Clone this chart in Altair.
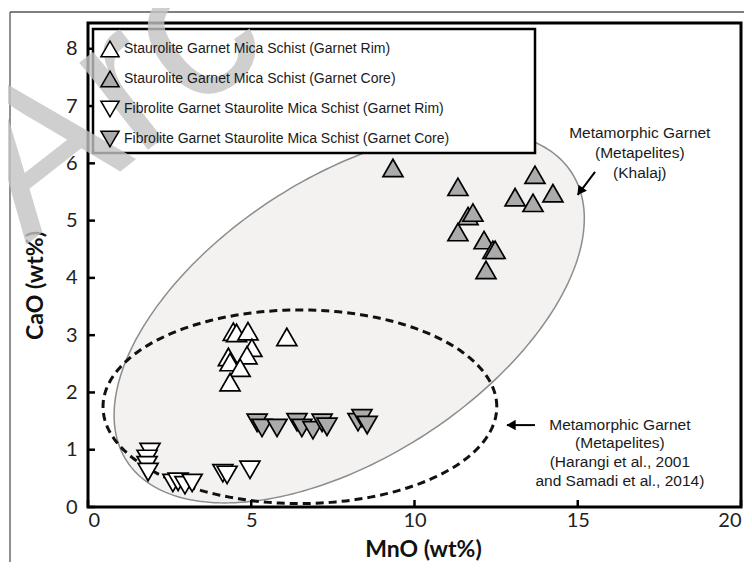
import altair as alt
import numpy as np
import pandas as pd

# ---------------- data ----------------
series_names = [
    "Staurolite Garnet Mica Schist (Garnet Rim)",
    "Staurolite Garnet Mica Schist (Garnet Core)",
    "Fibrolite Garnet Staurolite Mica Schist (Garnet Rim)",
    "Fibrolite Garnet Staurolite Mica Schist (Garnet Core)",
]

st_rim_mno = [4.45, 4.55, 4.90, 5.02, 4.87, 6.09, 4.30, 4.35, 4.66, 4.35]
st_rim_cao = [3.06, 3.04, 3.07, 2.78, 2.65, 2.97, 2.62, 2.53, 2.43, 2.18]

st_core_mno = [9.34, 11.33, 11.64, 11.79, 11.33, 12.13, 12.40, 12.47, 12.19, 13.69, 13.08, 13.63, 14.24]
st_core_cao = [5.92, 5.59, 5.08, 5.14, 4.80, 4.66, 4.49, 4.49, 4.14, 5.80, 5.41, 5.31, 5.48]

fib_rim_mno = [1.90, 1.81, 1.81, 1.84, 2.60, 2.76, 2.97, 3.19, 4.13, 4.26, 4.96]
fib_rim_cao = [0.96, 0.84, 0.73, 0.61, 0.42, 0.44, 0.38, 0.42, 0.59, 0.56, 0.65]

fib_core_mno = [5.18, 5.33, 5.79, 6.40, 6.55, 6.89, 7.17, 7.32, 8.27, 8.39, 8.55]
fib_core_cao = [1.47, 1.38, 1.38, 1.48, 1.38, 1.34, 1.47, 1.40, 1.48, 1.55, 1.43]

x_ticks = [0, 5, 10, 15, 20]
y_ticks = [0, 1, 2, 3, 4, 5, 6, 7, 8]

# Khalaj field: centre and two conjugate semi-axis vectors (data units)
khalaj_center = (8.00, 3.32)
khalaj_axis1 = (6.81, 2.52)
khalaj_axis2 = (2.34, -2.05)
# Harangi / Samadi field: centre and radii (data units)
harangi_center = (6.49, 1.75)
harangi_radii = (6.03, 1.69)

note_lines_1 = ["Metamorphic Garnet", "(Metapelites)", "(Khalaj)"]
note_x_1 = [16.9, 16.9, 16.9]
note_y_1 = [6.53, 6.18, 5.83]
note_lines_2 = ["Metamorphic Garnet", "(Metapelites)", "(Harangi et al., 2001", "and Samadi et al., 2014)"]
note_x_2 = [16.29, 16.29, 16.29, 16.29]
note_y_2 = [1.43, 1.11, 0.79, 0.46]

arrow_x = [15.53, 13.69]
arrow_y = [5.85, 1.43]
arrow_x2 = [15.00, 12.83]
arrow_y2 = [5.45, 1.43]
head_x = [15.07, 12.96]
head_y = [5.51, 1.43]
head_angle = [216, 270]

# ---------------- tables ----------------
pts = pd.concat([
    pd.DataFrame({"x": st_rim_mno, "y": st_rim_cao, "series": series_names[0]}),
    pd.DataFrame({"x": st_core_mno, "y": st_core_cao, "series": series_names[1]}),
    pd.DataFrame({"x": fib_rim_mno, "y": fib_rim_cao, "series": series_names[2]}),
    pd.DataFrame({"x": fib_core_mno, "y": fib_core_cao, "series": series_names[3]}),
], ignore_index=True)

t = np.linspace(0, 2 * np.pi, 241)
big = pd.DataFrame({
    "x": khalaj_center[0] + khalaj_axis1[0] * np.cos(t) + khalaj_axis2[0] * np.sin(t),
    "y": khalaj_center[1] + khalaj_axis1[1] * np.cos(t) + khalaj_axis2[1] * np.sin(t),
    "i": np.arange(len(t)),
})
small = pd.DataFrame({
    "x": harangi_center[0] + harangi_radii[0] * np.cos(t),
    "y": harangi_center[1] + harangi_radii[1] * np.sin(t),
    "i": np.arange(len(t)),
})
notes = pd.DataFrame({
    "x": note_x_1 + note_x_2,
    "y": note_y_1 + note_y_2,
    "text": note_lines_1 + note_lines_2,
})
arrows = pd.DataFrame({"x": arrow_x, "y": arrow_y, "x2": arrow_x2, "y2": arrow_y2})
heads = pd.DataFrame({"x": head_x, "y": head_y, "ang": head_angle})
xt = pd.DataFrame({"x": x_ticks})
yt = pd.DataFrame({"y": y_ticks})
one = pd.DataFrame({"a": [0]})

W, H = 653, 484
LAB = "Lato"
TXT = "Liberation Sans"

x_enc = alt.X("x:Q", scale=alt.Scale(domain=[0, 20], nice=False, zero=False),
              axis=alt.Axis(values=x_ticks, title="MnO (wt%)", labelFont=LAB, labelFontSize=20,
                            labelColor="#222", labelPadding=3, ticks=False, domain=False, grid=False,
                            titleFont=LAB, titleFontSize=23, titleFontWeight="bold", titleColor="#111",
                            titlePadding=8, titleX=335))
y_enc = alt.Y("y:Q", scale=alt.Scale(domain=[0, 8.45], nice=False, zero=False),
              axis=alt.Axis(values=y_ticks, title="CaO (wt%)", labelFont=LAB, labelFontSize=20,
                            labelColor="#222", labelPadding=11, ticks=False, domain=False, grid=False,
                            titleFont=LAB, titleFontSize=23, titleFontWeight="bold", titleColor="#111",
                            titlePadding=18, titleY=262))

big_layer = alt.Chart(big).mark_line(fill="#f3f2f0", stroke="#8c8c8c", strokeWidth=1.5).encode(
    x=x_enc, y=y_enc, order="i:Q")
small_layer = alt.Chart(small).mark_line(stroke="#111", strokeWidth=3, strokeDash=[8, 5]).encode(
    x=x_enc, y=y_enc, order="i:Q")

legend_props = dict(title=None, orient="none", legendX=12, legendY=16, padding=0,
                    labelFont=TXT, labelFontSize=14, labelColor="#1a1a1a", labelLimit=0,
                    labelOffset=4, rowPadding=8, symbolSize=330, symbolStrokeWidth=1.5,
                    symbolOpacity=1)

point_layer = alt.Chart(pts).mark_point(filled=True, size=400, strokeWidth=1.7, opacity=1).encode(
    x=x_enc, y=y_enc,
    shape=alt.Shape("series:N", scale=alt.Scale(domain=series_names,
                    range=["triangle-up", "triangle-up", "triangle-down", "triangle-down"]),
                    legend=alt.Legend(**legend_props)),
    fill=alt.Fill("series:N", scale=alt.Scale(domain=series_names,
                  range=["white", "#ababab", "white", "#ababab"]),
                  legend=alt.Legend(**legend_props)),
    stroke=alt.Stroke("series:N", scale=alt.Scale(domain=series_names,
                      range=["black", "black", "black", "black"]),
                      legend=alt.Legend(**legend_props)),
)

legend_box = alt.Chart(one).mark_rect(fill="white", stroke="black", strokeWidth=2.5).encode(
    x=alt.value(5), x2=alt.value(447), y=alt.value(6), y2=alt.value(130))

xtick_layer = alt.Chart(xt).mark_rule(color="black", strokeWidth=2.5).encode(
    x=x_enc, y=alt.value(H), y2=alt.value(H - 7))
ytick_layer = alt.Chart(yt).mark_rule(color="black", strokeWidth=2.5).encode(
    y=y_enc, x=alt.value(0), x2=alt.value(7))

arrow_layer = alt.Chart(arrows).mark_rule(color="black", strokeWidth=2).encode(
    x=x_enc, y=y_enc, x2="x2:Q", y2="y2:Q")
head_layer = alt.Chart(heads).mark_point(shape="triangle-up", filled=True, fill="black",
                                         size=110, opacity=1).encode(
    x=x_enc, y=y_enc, angle=alt.Angle("ang:Q", scale=None))

note_layer = alt.Chart(notes).mark_text(font=TXT, fontSize=15.5, align="center",
                                        baseline="middle", color="#1a1a1a").encode(
    x=x_enc, y=y_enc, text="text:N")

outer_left = alt.Chart(one).mark_rule(color="#555", strokeWidth=1.3).encode(
    x=alt.value(-78), y=alt.value(-11), y2=alt.value(600))
outer_top = alt.Chart(one).mark_rule(color="#555", strokeWidth=1.3).encode(
    y=alt.value(-11), x=alt.value(-78), x2=alt.value(700))

watermark = alt.Chart(one).mark_text(text="Arc", font=TXT, fontSize=210, angle=322,
                                     align="left", baseline="alphabetic", color="#c4c4c4",
                                     opacity=0.8).encode(
    x=alt.value(-62), y=alt.value(222))

chart = alt.layer(
    outer_left, outer_top, big_layer, small_layer, xtick_layer, ytick_layer,
    point_layer, legend_box, arrow_layer, head_layer, note_layer, watermark,
).properties(
    width=W, height=H,
    padding={"left": 80, "top": 15, "right": 3, "bottom": 55},
    autosize=alt.AutoSizeParams(type="none"),
).configure_view(stroke="black", strokeWidth=3)

chart.save("out.html", embed_options={"renderer": "svg", "actions": False})
